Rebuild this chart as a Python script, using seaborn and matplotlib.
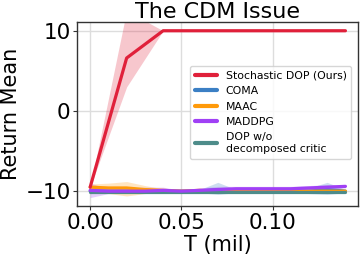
import numpy as np
import pandas as pd
import matplotlib
matplotlib.use("Agg")
import matplotlib.pyplot as plt
import seaborn as sns

sns.set_style("whitegrid")
plt.rcParams['font.family'] = ['DejaVu Sans']
plt.rcParams['text.color'] = 'black'
plt.rcParams['axes.labelcolor'] = 'black'
plt.rcParams['xtick.color'] = 'black'
plt.rcParams['ytick.color'] = 'black'

# data
t_dop = [0.00, 0.02, 0.04, 0.06, 0.08, 0.10, 0.12, 0.14]
dop_mean = [-9.5, 6.6, 10, 10, 10, 10, 10, 10]
dop_low = [-9.5, 3.0, 10, 10, 10, 10, 10, 10]
dop_high = [-9.5, 12.5, 10, 10, 10, 10, 10, 10]

t = [0.00, 0.01, 0.02, 0.03, 0.04, 0.05, 0.06, 0.07, 0.08, 0.09, 0.10, 0.11, 0.12, 0.13, 0.14]

coma_mean = [-10, -10, -10, -10, -10, -10, -10, -9.8, -10, -10, -10, -10, -10, -9.8, -10]
coma_low = [-10.3, -10.2, -10.2, -10.2, -10.1, -10.1, -10.2, -10.4, -10.2, -10.2, -10.2, -10.2, -10.3, -10.4, -10.2]
coma_high = [-9.7, -9.8, -9.8, -9.8, -9.9, -9.9, -9.8, -8.9, -9.8, -9.8, -9.8, -9.8, -9.6, -8.9, -9.8]

maac_mean = [-9.5, -9.6, -9.6, -9.8, -9.9, -10, -9.9, -10, -10, -10, -10, -10, -10, -10, -10]
maac_low = [-10.0, -10.3, -10.6, -10.3, -10.1, -10.1, -10.1, -10.1, -10.1, -10.1, -10.1, -10.1, -10.2, -10.2, -10.1]
maac_high = [-9.1, -9.0, -8.8, -9.3, -9.7, -9.9, -9.7, -9.9, -9.9, -9.9, -9.9, -9.9, -9.8, -9.8, -9.9]

maddpg_mean = [-9.9, -10, -10, -10, -9.9, -10, -9.9, -9.8, -9.7, -9.7, -9.7, -9.7, -9.6, -9.5, -9.4]
maddpg_low = [-10.8, -10.3, -10.2, -10.2, -10.2, -10.1, -10.1, -10.1, -10.0, -10.0, -10.0, -10.0, -9.9, -9.8, -9.6]
maddpg_high = [-9.0, -9.7, -9.6, -9.5, -9.5, -9.9, -9.6, -9.4, -9.4, -9.4, -9.4, -9.4, -9.3, -9.2, -9.2]

nodec_mean = [-10.1, -10.1, -10.1, -10.1, -10.1, -10.1, -10.1, -10.1, -10.1, -10.1, -10.1, -10.1, -10.1, -10.1, -10.1]
nodec_low = [-10.3, -10.2, -10.2, -10.2, -10.2, -10.2, -10.2, -10.2, -10.2, -10.2, -10.2, -10.2, -10.2, -10.2, -10.2]
nodec_high = [-9.9, -10.0, -10.0, -10.0, -10.0, -10.0, -10.0, -10.0, -10.0, -10.0, -10.0, -10.0, -10.0, -10.0, -10.0]

labels = ["Stochastic DOP (Ours)", "COMA", "MAAC", "MADDPG", "DOP w/o\ndecomposed critic"]
colors = ["#e0203a", "#3b7fc4", "#ff9a0a", "#a040f5", "#4e8c8a"]

series = [
    (t_dop, dop_mean, dop_low, dop_high),
    (t, coma_mean, coma_low, coma_high),
    (t, maac_mean, maac_low, maac_high),
    (t, maddpg_mean, maddpg_low, maddpg_high),
    (t, nodec_mean, nodec_low, nodec_high),
]

fig, ax = plt.subplots(figsize=(3.6, 2.58), dpi=100)

# bands first, then lines (ours on top)
for (x, m, lo, hi), c in zip(series, colors):
    ax.fill_between(x, lo, hi, color=c, alpha=0.25, linewidth=0)

for i in [1, 2, 4, 3, 0]:
    x, m, lo, hi = series[i]
    df = pd.DataFrame({"T": x, "R": m})
    sns.lineplot(data=df, x="T", y="R", color=colors[i], linewidth=2.3, ax=ax, label=labels[i])

h, l = ax.get_legend_handles_labels()
lookup = dict(zip(l, h))
leg = ax.legend([lookup[k] for k in labels], labels, loc="center right",
                bbox_to_anchor=(0.995, 0.51), fontsize=7.8, frameon=True,
                handlelength=2.0, borderpad=0.45, labelspacing=0.5)
for line in leg.get_lines():
    line.set_linewidth(3)

ax.set_xlim(-0.007, 0.147)
ax.set_ylim(-11.9, 11.1)
ax.set_xticks([0.00, 0.05, 0.10])
ax.set_xticklabels(["0.00", "0.05", "0.10"])
ax.set_yticks([-10, 0, 10])
ax.tick_params(labelsize=15.5, pad=2, length=3, color="#333333", bottom=True, left=True)
ax.set_xlabel("T (mil)", fontsize=15, labelpad=1)
ax.set_ylabel("Return Mean", fontsize=15, labelpad=3)
ax.set_title("The CDM Issue", fontsize=16, pad=3)
for s in ax.spines.values():
    s.set_edgecolor("#333333")
    s.set_linewidth(1.0)
ax.grid(color="#dddddd", linewidth=1.0)

fig.subplots_adjust(left=0.215, right=0.995, top=0.915, bottom=0.2)
fig.savefig("out.png", dpi=100)
